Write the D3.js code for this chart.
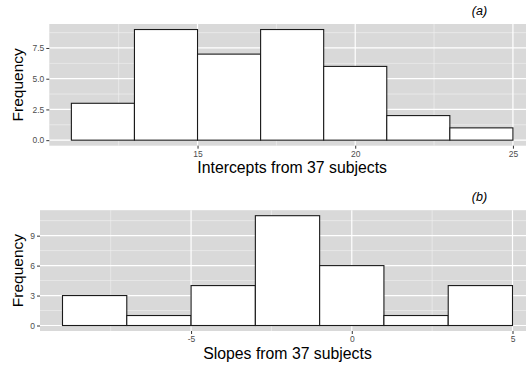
<!DOCTYPE html>
<html>
<head>
<meta charset="utf-8">
<script src="https://cdn.jsdelivr.net/npm/d3@7"></script>
<style>
  html, body { margin: 0; padding: 0; background: #ffffff; }
  svg { display: block; }
  text { font-family: "Liberation Sans", Arial, Helvetica, sans-serif; }
</style>
</head>
<body>
<svg id="chart" width="526" height="367"></svg>
<script>
// Histogram bin edges and counts
const interceptEdges = [11, 13, 15, 17, 19, 21, 23, 25];
const interceptCounts = [3, 9, 7, 9, 6, 2, 1];
const slopeEdges = [-9, -7, -5, -3, -1, 1, 3, 5];
const slopeCounts = [3, 1, 4, 11, 6, 1, 4];

// Axis breaks
const interceptXTicks = [15, 20, 25];
const interceptXMinor = [12.5, 17.5, 22.5];
const interceptYTicks = [0, 2.5, 5, 7.5];
const interceptYLabels = ["0.0", "2.5", "5.0", "7.5"];
const interceptYMinor = [1.25, 3.75, 6.25, 8.75];

const slopeXTicks = [-5, 0, 5];
const slopeXMinor = [-7.5, -2.5, 2.5];
const slopeYTicks = [0, 3, 6, 9];
const slopeYLabels = ["0", "3", "6", "9"];
const slopeYMinor = [1.5, 4.5, 7.5, 10.5];

const panelTitles = ["(a)", "(b)"];
const xTitles = ["Intercepts from 37 subjects", "Slopes from 37 subjects"];
const yTitle = "Frequency";

const svg = d3.select("#chart");

function expand(lo, hi, f) {
  const d = (hi - lo) * f;
  return [lo - d, hi + d];
}

function drawPanel(cfg) {
  const g = svg.append("g");
  const bins = cfg.counts.map((c, i) => ({ x0: cfg.edges[i], x1: cfg.edges[i + 1], n: c }));
  const xDom = expand(d3.min(cfg.edges), d3.max(cfg.edges), 0.05);
  const yDom = expand(0, d3.max(cfg.counts), 0.05);
  const x = d3.scaleLinear().domain(xDom).range([cfg.left, cfg.right]);
  const y = d3.scaleLinear().domain(yDom).range([cfg.bottom, cfg.top]);

  // panel background
  g.append("rect")
    .attr("x", cfg.left).attr("y", cfg.top)
    .attr("width", cfg.right - cfg.left).attr("height", cfg.bottom - cfg.top)
    .attr("fill", "#d9d9d9");

  // minor grid
  g.selectAll(".ymin").data(cfg.yMinor).enter().append("line")
    .attr("x1", cfg.left).attr("x2", cfg.right)
    .attr("y1", d => y(d)).attr("y2", d => y(d))
    .attr("stroke", "#f2f2f2").attr("stroke-width", 0.6);
  g.selectAll(".xmin").data(cfg.xMinor).enter().append("line")
    .attr("y1", cfg.top).attr("y2", cfg.bottom)
    .attr("x1", d => x(d)).attr("x2", d => x(d))
    .attr("stroke", "#f2f2f2").attr("stroke-width", 0.6);
  // major grid
  g.selectAll(".ymaj").data(cfg.yTicks).enter().append("line")
    .attr("x1", cfg.left).attr("x2", cfg.right)
    .attr("y1", d => y(d)).attr("y2", d => y(d))
    .attr("stroke", "#ffffff").attr("stroke-width", 1.2);
  g.selectAll(".xmaj").data(cfg.xTicks).enter().append("line")
    .attr("y1", cfg.top).attr("y2", cfg.bottom)
    .attr("x1", d => x(d)).attr("x2", d => x(d))
    .attr("stroke", "#ffffff").attr("stroke-width", 1.2);

  // bars
  g.selectAll(".bar").data(bins).enter().append("rect")
    .attr("x", d => x(d.x0)).attr("width", d => x(d.x1) - x(d.x0))
    .attr("y", d => y(d.n)).attr("height", d => y(0) - y(d.n))
    .attr("fill", "#ffffff").attr("stroke", "#1a1a1a").attr("stroke-width", 1.1);

  // x axis (plain hyphen for negatives)
  const xAxis = d3.axisBottom(x).tickValues(cfg.xTicks).tickSize(3).tickPadding(2)
    .tickFormat(d => String(d));
  const gx = g.append("g").attr("transform", `translate(0,${cfg.bottom})`).call(xAxis);
  gx.select(".domain").remove();
  gx.selectAll(".tick line").attr("stroke", "#333333").attr("stroke-width", 1);
  gx.selectAll(".tick text").attr("fill", "#4d4d4d").attr("font-size", 8.5)
    .attr("font-family", "Liberation Sans, Arial, sans-serif");

  // y axis
  const yAxis = d3.axisLeft(y).tickValues(cfg.yTicks).tickSize(3).tickPadding(2)
    .tickFormat((d, i) => cfg.yLabels[i]);
  const gy = g.append("g").attr("transform", `translate(${cfg.left},0)`).call(yAxis);
  gy.select(".domain").remove();
  gy.selectAll(".tick line").attr("stroke", "#333333").attr("stroke-width", 1);
  gy.selectAll(".tick text").attr("fill", "#4d4d4d").attr("font-size", 8.5)
    .attr("font-family", "Liberation Sans, Arial, sans-serif");

  // axis titles
  g.append("text")
    .attr("x", (cfg.left + cfg.right) / 2).attr("y", cfg.bottom + 27.5)
    .attr("text-anchor", "middle").attr("font-size", 15.8).attr("fill", "#000")
    .text(cfg.xTitle);
  g.append("text")
    .attr("transform", `translate(23.3,${(cfg.top + cfg.bottom) / 2}) rotate(-90)`)
    .attr("text-anchor", "middle").attr("font-size", 15.5).attr("fill", "#000")
    .text(yTitle);

  // panel tag
  g.append("text")
    .attr("x", 479.5).attr("y", cfg.top - 9.5)
    .attr("text-anchor", "middle").attr("font-size", 12.5).attr("font-style", "italic")
    .attr("fill", "#000")
    .text(cfg.tag);
}

drawPanel({
  edges: interceptEdges, counts: interceptCounts,
  xTicks: interceptXTicks, xMinor: interceptXMinor,
  yTicks: interceptYTicks, yLabels: interceptYLabels, yMinor: interceptYMinor,
  left: 49.3, right: 535, top: 24, bottom: 145.7,
  xTitle: xTitles[0], tag: panelTitles[0]
});

drawPanel({
  edges: slopeEdges, counts: slopeCounts,
  xTicks: slopeXTicks, xMinor: slopeXMinor,
  yTicks: slopeYTicks, yLabels: slopeYLabels, yMinor: slopeYMinor,
  left: 40, right: 535, top: 210.2, bottom: 331,
  xTitle: xTitles[1], tag: panelTitles[1]
});
</script>
</body>
</html>
